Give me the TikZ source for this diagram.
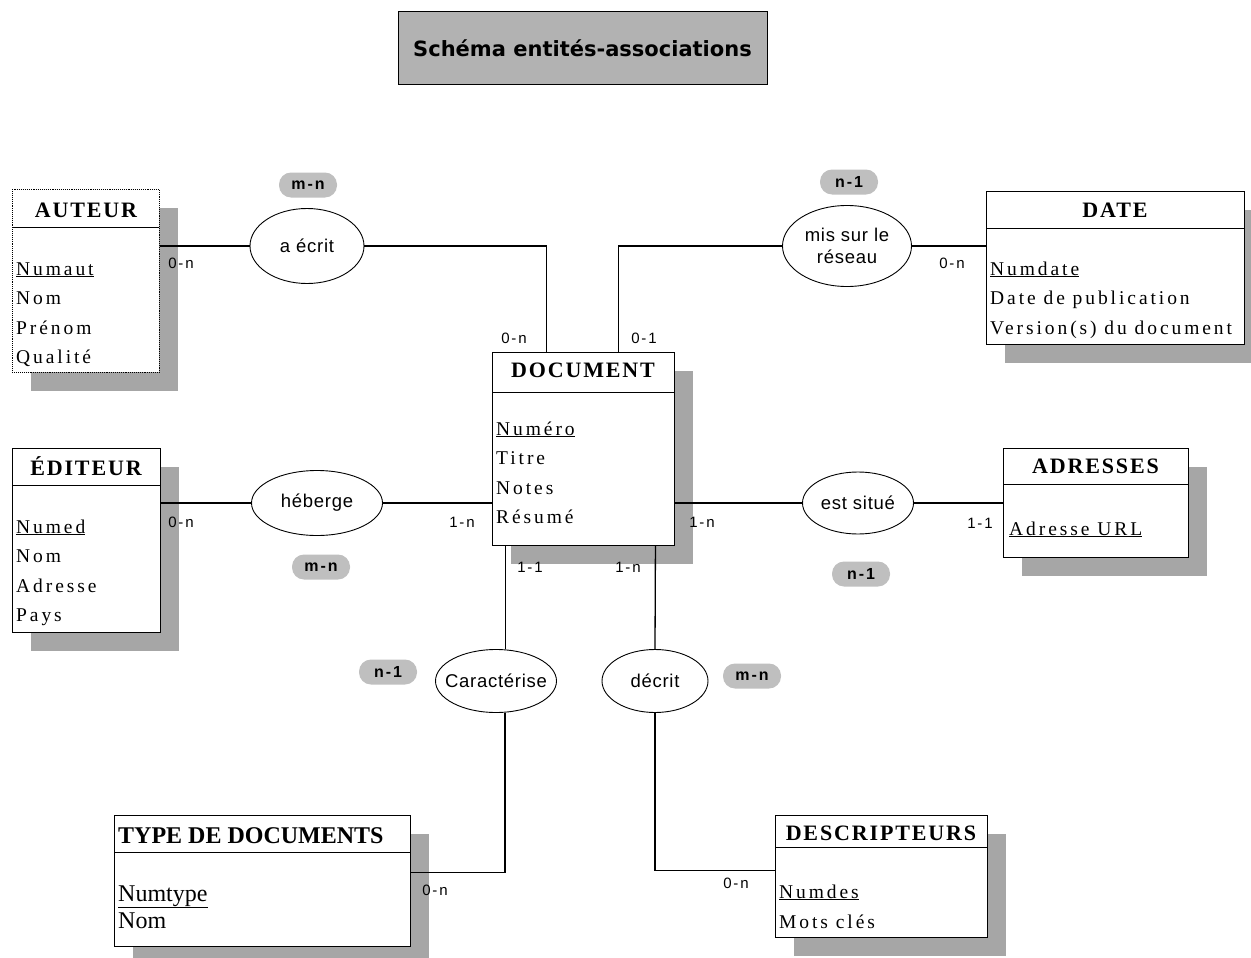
\documentclass[tikz,border=0pt]{standalone}
\usepackage{fontspec}
\setmainfont{Liberation Serif}
\newfontfamily\attrfont[LetterSpace=15]{Liberation Serif}
\newfontfamily\headfont[LetterSpace=8.5]{Liberation Serif}
\newfontfamily\relfont[LetterSpace=4]{Liberation Sans}
\newfontfamily\cardfont[LetterSpace=12]{Liberation Sans}
\newfontfamily\pillfont[LetterSpace=12]{Liberation Sans}
\newfontfamily\bannerfont{DejaVu Sans}
\usetikzlibrary{shapes.geometric,shadows}
\colorlet{ombre}{black!35}
\colorlet{pastille}{black!25}

\begin{document}
\begin{tikzpicture}[x=1pt, y=-1pt,
  entity/.style={draw, fill=white, anchor=north west, inner sep=0pt, line width=0.9pt,
    general shadow={fill=ombre, shadow xshift=19pt, shadow yshift=-19pt}},
  head/.style={anchor=base, inner sep=0pt, font=\fontsize{22}{26}\headfont\bfseries},
  field/.style={anchor=base west, inner sep=0pt, font=\fontsize{19.5}{23}\attrfont},
  bigfield/.style={anchor=base west, inner sep=0pt, font=\fontsize{24}{28}\selectfont},
  assoc/.style={draw, ellipse, fill=white, inner sep=0pt, line width=0.9pt, align=center,
    font=\fontsize{18.5}{22}\relfont},
  card/.style={inner sep=0pt, font=\fontsize{15}{15}\cardfont},
  pill/.style={fill=pastille, rounded corners=12pt, minimum width=58pt, minimum height=25pt,
    inner sep=0pt, font=\fontsize{16}{16}\pillfont\bfseries},
  link/.style={draw, line width=1.3pt}]
\useasboundingbox (0,0) rectangle (1251,958);

% titre
\node[draw, fill=black!30, line width=1pt, minimum width=369pt, minimum height=73pt,
  font=\fontsize{21}{24}\bannerfont\bfseries] (titre) at (582.5,48.5) {Schéma entités-associations};

% entites
\node[entity, densely dotted, minimum width=147pt, minimum height=183pt] (auteur) at (12,189) {};
\draw[line width=0.9pt] (auteur.north west) ++(0,38) -- ++(147,0);
\node[head] (auteur-t) at (86,217) {AUTEUR};
\node[field] (auteur-1) at (16,275) {\underline{Numaut}};
\node[field] (auteur-2) at (16,304.5) {Nom};
\node[field] (auteur-3) at (16,334) {Prénom};
\node[field] (auteur-4) at (16,363.5) {Qualité};

\node[entity, minimum width=258pt, minimum height=153pt] (date) at (986,191) {};
\draw[line width=0.9pt] (date.north west) ++(0,37) -- ++(258,0);
\node[head] (date-t) at (1115,217) {DATE};
\node[field] (date-1) at (990,275) {\underline{Numdate}};
\node[field] (date-2) at (990,304.5) {Date de publication};
\node[field] (date-3) at (990,334) {Version(s) du document};

\node[entity, minimum width=182pt, minimum height=193pt] (doc) at (492,352) {};
\draw[line width=0.9pt] (doc.north west) ++(0,40) -- ++(182,0);
\node[head] (doc-t) at (583,377) {DOCUMENT};
\node[field] (doc-1) at (496,435) {\underline{Numéro}};
\node[field] (doc-2) at (496,464.5) {Titre};
\node[field] (doc-3) at (496,494) {Notes};
\node[field] (doc-4) at (496,523.5) {Résumé};

\node[entity, minimum width=148pt, minimum height=184pt] (editeur) at (12,448) {};
\draw[line width=0.9pt] (editeur.north west) ++(0,37) -- ++(148,0);
\node[head] (editeur-t) at (86,475) {ÉDITEUR};
\node[field] (editeur-1) at (16,533) {\underline{Numed}};
\node[field] (editeur-2) at (16,562.5) {Nom};
\node[field] (editeur-3) at (16,592) {Adresse};
\node[field] (editeur-4) at (16,621.5) {Pays};

\node[entity, minimum width=185pt, minimum height=109pt] (adresses) at (1003,448) {};
\draw[line width=0.9pt] (adresses.north west) ++(0,36) -- ++(185,0);
\node[head] (adresses-t) at (1095.5,473) {ADRESSES};
\node[field] (adresses-1) at (1009,535) {\underline{Adresse URL}};

\node[entity, minimum width=296pt, minimum height=131pt] (typedoc) at (114,815) {};
\draw[line width=0.9pt] (typedoc.north west) ++(0,37) -- ++(296,0);
\node[bigfield, font=\fontsize{24}{28}\selectfont\bfseries] (typedoc-t) at (118,843) {TYPE DE DOCUMENTS};
\node[bigfield] (typedoc-1) at (118,901) {\underline{Numtype}};
\node[bigfield] (typedoc-2) at (118,928) {Nom};

\node[entity, minimum width=212pt, minimum height=122pt] (descr) at (775,815) {};
\draw[line width=0.9pt] (descr.north west) ++(0,32) -- ++(212,0);
\node[head] (descr-t) at (881,840) {DESCRIPTEURS};
\node[field] (descr-1) at (779,898) {\underline{Numdes}};
\node[field] (descr-2) at (779,928) {Mots clés};

% associations
\node[assoc, minimum width=114pt, minimum height=75pt] (ecrit) at (307,246) {\makebox[0pt]{a écrit}};
\node[assoc, minimum width=129pt, minimum height=81pt] (reseau) at (847,246) {\makebox[0pt]{mis sur le}\\\makebox[0pt]{réseau}};
\node[assoc, minimum width=131pt, minimum height=65pt] (heberge) at (317,503) {\makebox[0pt]{héberge}};
\node[assoc, minimum width=111pt, minimum height=62pt] (situe) at (858,503) {\makebox[0pt]{est situé}};
\node[assoc, minimum width=121pt, minimum height=63pt] (caract) at (496,681) {\makebox[0pt]{Caractérise}};
\node[assoc, minimum width=106pt, minimum height=63pt] (decrit) at (655,681) {\makebox[0pt]{décrit}};

% liens
\draw[link] (ecrit.west) -- (ecrit.west -| auteur.east);
\draw[link] (ecrit.east) -| ([xshift=-37pt]doc.north);
\draw[link] (reseau.west) -| ([xshift=35pt]doc.north);
\draw[link] (reseau.east) -- (reseau.east -| date.west);
\draw[link] (heberge.west) -- (heberge.west -| editeur.east);
\draw[link] (heberge.east) -- (heberge.east -| doc.west);
\draw[link] (situe.west) -- (situe.west -| doc.east);
\draw[link] (situe.east) -- (situe.east -| adresses.west);
\draw[link] ([xshift=-78pt]doc.south) -- ([xshift=-78pt]doc.south |- caract.north);
\draw[link] ([xshift=9pt]caract.south) |- ([yshift=8.5pt]typedoc.east);
\draw[link] ([xshift=72pt]doc.south) -- (decrit.north);
\draw[link] (decrit.south) |- ([yshift=6pt]descr.west);

% cardinalites
\node[card] (c-aut) at (181,263) {0-n};
\node[card] (c-doca) at (514,338) {0-n};
\node[card] (c-docb) at (644,338) {0-1};
\node[card] (c-date) at (952,263) {0-n};
\node[card] (c-edit) at (181,522) {0-n};
\node[card] (c-hebdoc) at (462,522) {1-n};
\node[card] (c-docsit) at (702,522) {1-n};
\node[card] (c-adr) at (980,523) {1-1};
\node[card] (c-car) at (530,567) {1-1};
\node[card] (c-dec) at (628,567) {1-n};
\node[card] (c-type) at (435,890) {0-n};
\node[card] (c-descr) at (736,883) {0-n};

\node[pill] (p-ecrit) at (308,185) {m-n};
\node[pill] (p-reseau) at (849,182) {n-1};
\node[pill] (p-heberge) at (321,567) {m-n};
\node[pill] (p-situe) at (861,574) {n-1};
\node[pill] (p-caract) at (388,672) {n-1};
\node[pill] (p-decrit) at (752,676) {m-n};
\end{tikzpicture}
\end{document}
